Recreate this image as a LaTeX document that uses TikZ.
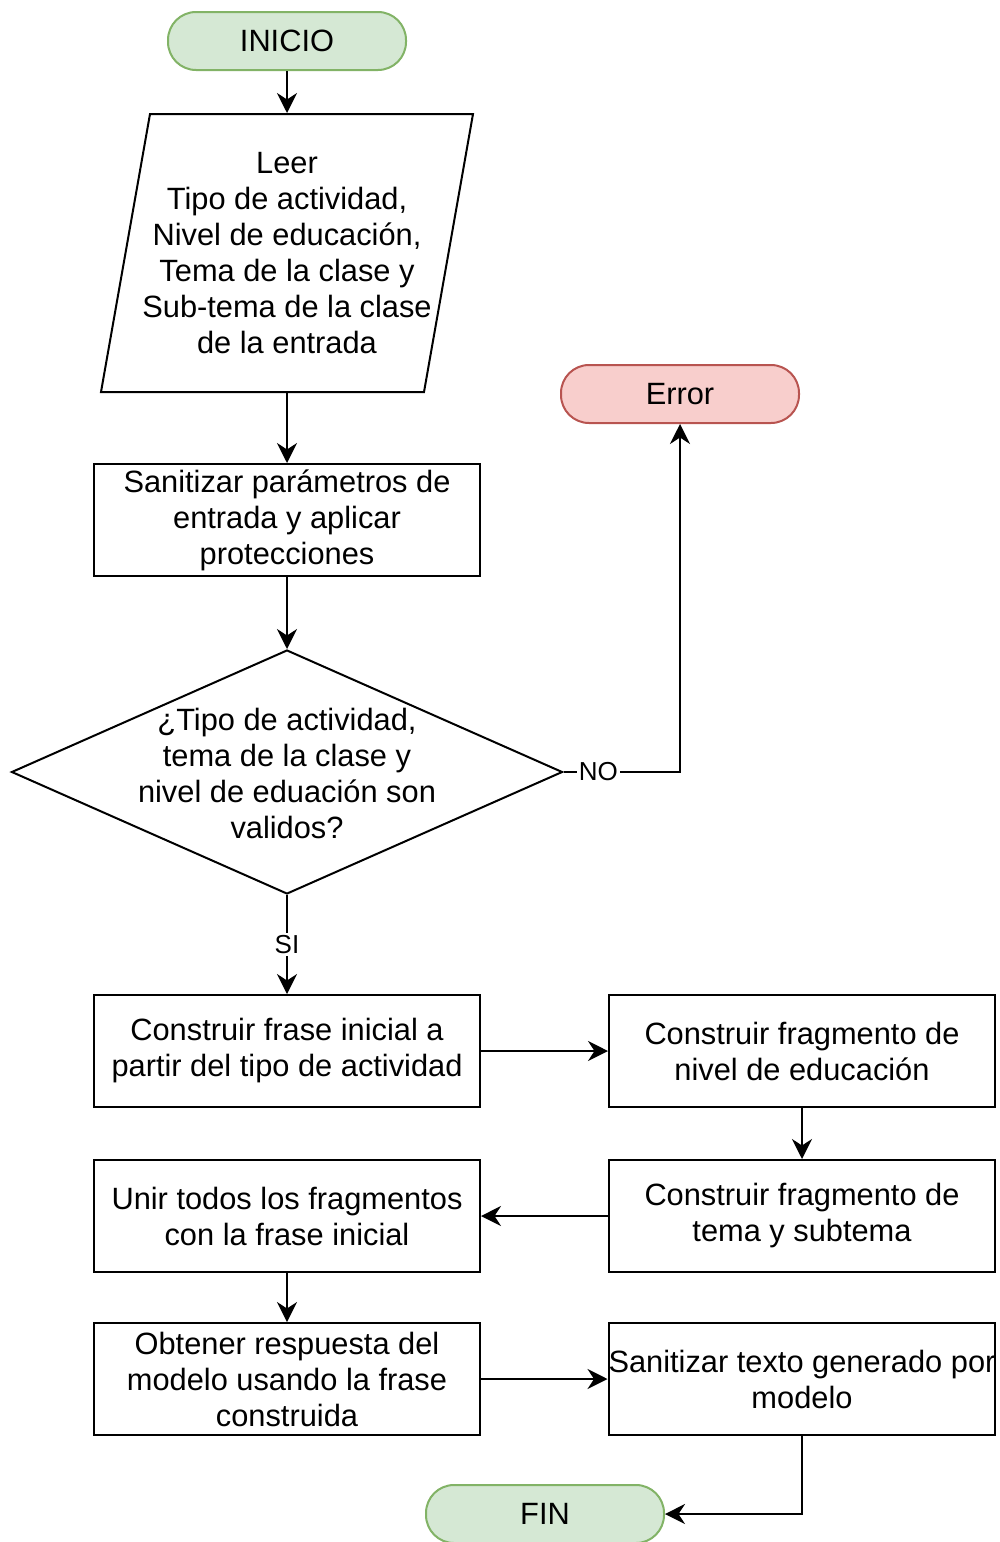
\documentclass[tikz,border=0pt]{standalone}
\usepackage{fontspec}
\setmainfont{Liberation Sans}
\usetikzlibrary{shapes.geometric,arrows.meta}
\definecolor{termfill}{HTML}{D5E8D4}
\definecolor{termline}{HTML}{82B366}
\definecolor{errfill}{HTML}{F8CECC}
\definecolor{errline}{HTML}{B85450}
\tikzset{
  base/.style={font=\fontsize{15.4}{18}\selectfont, align=center, line width=1pt},
  term/.style={base, draw=termline, fill=termfill, rounded corners=14pt, minimum width=119pt, minimum height=29pt},
  errterm/.style={term, draw=errline, fill=errfill},
  proc/.style={base, draw, minimum width=193pt, minimum height=56pt, inner sep=0pt},
  decision/.style={base, draw, diamond, minimum width=275.5pt, minimum height=122pt, inner sep=0pt},
  flow/.style={line width=1pt, -{Stealth[length=10pt,width=10pt]}},
  tag/.style={font=\fontsize{13}{15}\selectfont, fill=white, inner sep=1pt}
}
\begin{document}
\begin{tikzpicture}[x=0.5pt, y=-0.5pt]
    \useasboundingbox (0,0) rectangle (1000,1542);
    \node[term] (inicio) at (287,41) {INICIO};
    \draw[line width=1pt] (150,114) -- (473,114) -- (424,392) -- (101,392) -- cycle;
    \node[base, minimum width=161pt, minimum height=139pt, inner sep=0pt] (leer) at (287,253) {Leer\\Tipo de actividad,\\Nivel de educación,\\Tema de la clase y\\Sub-tema de la clase\\de la entrada};
    \node[proc] (sanit) at (287,520) {Sanitizar parámetros de\\entrada y aplicar\\protecciones};
    \node[decision] (valid) at (287,772) {};
    \node[base] (validtxt) at (287,773) {¿Tipo de actividad,\\tema de la clase y\\nivel de eduación son\\validos?};
    \node[errterm] (error) at (680,394) {Error};
    \node[proc] (frase) at (287,1051) {Construir frase inicial a\\partir del tipo de actividad};
    \node[proc] (nivel) at (802,1051) {Construir fragmento de\\nivel de educación};
    \node[proc] (tema) at (802,1216) {Construir fragmento de\\tema y subtema};
    \node[proc] (unir) at (287,1216) {Unir todos los fragmentos\\con la frase inicial};
    \node[proc] (obtener) at (287,1379) {Obtener respuesta del\\modelo usando la frase\\construida};
    \node[proc] (santexto) at (802,1379) {Sanitizar texto generado por\\modelo};
    \node[term] (fin) at (545,1514) {FIN};
    \draw[flow] (inicio) -- (leer);
    \draw[flow] (leer) -- (sanit);
    \draw[flow] (sanit) -- (valid);
    \draw[flow] (valid.east) -| node[tag, pos=0.15] {NO} (error.south);
    \draw[flow] (valid.south) -- node[tag, midway] {SI} (frase.north);
    \draw[flow] (frase) -- (nivel);
    \draw[flow] (nivel) -- (tema);
    \draw[flow] (tema) -- (unir);
    \draw[flow] (unir) -- (obtener);
    \draw[flow] (obtener) -- (santexto);
    \draw[flow] (santexto.south) |- (fin.east);
\end{tikzpicture}
\end{document}
